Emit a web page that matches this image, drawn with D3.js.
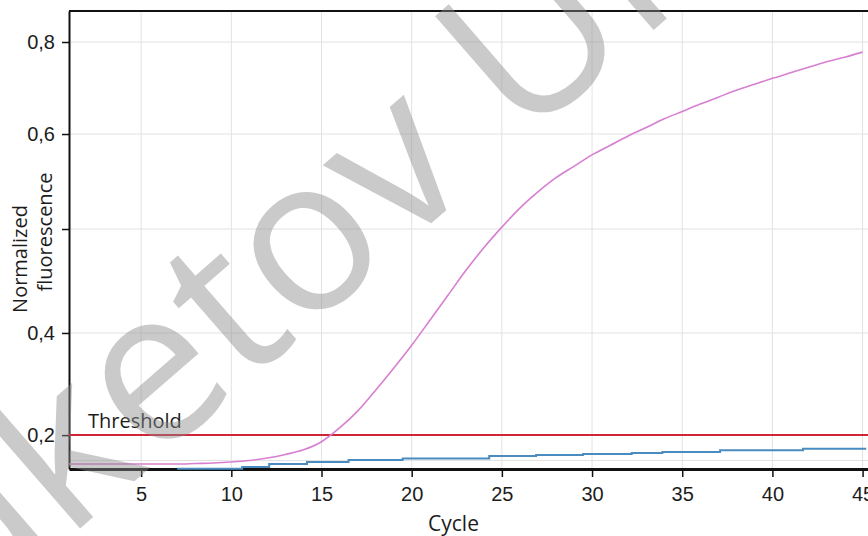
<!DOCTYPE html>
<html>
<head>
<meta charset="utf-8">
<script src="https://cdn.jsdelivr.net/npm/d3@7"></script>
<style>
  body { margin: 0; background: #fff; }
  svg { display: block; font-family: "Open Sans", sans-serif; }
</style>
</head>
<body>
<svg id="chart" width="868" height="536"></svg>
<script>
// cycle numbers and normalized fluorescence
const cycles = d3.range(1, 46);
const sampleValues = [0.143, 0.143, 0.143, 0.143, 0.143, 0.143, 0.143, 0.144, 0.145, 0.147,
  0.150, 0.155, 0.162, 0.171, 0.187, 0.214, 0.247, 0.288, 0.331, 0.376,
  0.412, 0.436, 0.460, 0.482, 0.502, 0.522, 0.539, 0.554, 0.566, 0.578,
  0.588, 0.598, 0.614, 0.633, 0.649, 0.665, 0.680, 0.695, 0.708, 0.721,
  0.733, 0.745, 0.757, 0.767, 0.778];

// negative control, drawn as steps
const controlCycles = [7, 10.6, 12.1, 14.2, 16.5, 19.5, 24.3, 26.9, 29.5, 32.2, 33.9, 37.1, 41.7, 45.2];
const controlValues = [0.134, 0.137, 0.143, 0.147, 0.151, 0.154, 0.159, 0.161, 0.163, 0.165, 0.167, 0.170, 0.173, 0.173];

const threshold = 0.2;

const xTicks = [5, 10, 15, 20, 25, 30, 35, 40, 45];
const yTicks = [0.2, 0.4, 0.5, 0.6, 0.8];
const yTickLabels = ["0,2", "0,4", "", "0,6", "0,8"];
const yGrid = [0.15, 0.2, 0.4, 0.5, 0.6, 0.8];

// the value axis in the source is not evenly spaced, so it is piecewise
const yStops = [0.1333, 0.2, 0.4, 0.5, 0.6, 0.8, 0.8674];
const yStopFrac = [1, 0.926, 0.703, 0.476, 0.2686, 0.0677, 0];

const svg = d3.select("#chart");
const margin = {top: 11, right: 0, bottom: 67, left: 69};
const W = 868 - margin.left - margin.right;
const H = 536 - margin.top - margin.bottom;

const x = d3.scaleLinear().domain([1, 45.3]).range([0, W]);
const y = d3.scaleLinear().domain(yStops).range(yStopFrac.map(f => f * H));

const g = svg.append("g").attr("transform", `translate(${margin.left},${margin.top})`);

// grid
g.append("g")
  .selectAll("line")
  .data(xTicks)
  .join("line")
  .attr("x1", d => x(d)).attr("x2", d => x(d))
  .attr("y1", 0).attr("y2", H)
  .attr("stroke", "#e2e2e2");

g.append("g")
  .selectAll("line")
  .data(yGrid)
  .join("line")
  .attr("x1", 0).attr("x2", W)
  .attr("y1", d => y(d)).attr("y2", d => y(d))
  .attr("stroke", "#e2e2e2");

// axes
const xAxis = g.append("g")
  .attr("transform", `translate(0,${H})`)
  .call(d3.axisBottom(x).tickValues(xTicks).tickSize(8).tickSizeOuter(0).tickPadding(10));
xAxis.select(".domain").attr("stroke", "#111").attr("stroke-width", 3);
xAxis.selectAll(".tick line").attr("stroke", "#111").attr("stroke-width", 1.5);
xAxis.selectAll("text").attr("font-size", 20).attr("fill", "#1c1c1c");

const yAxis = g.append("g")
  .call(d3.axisLeft(y).tickValues(yTicks)
    .tickFormat((d, i) => yTickLabels[i])
    .tickSize(7).tickSizeOuter(0).tickPadding(7));
yAxis.select(".domain").attr("stroke", "#111").attr("stroke-width", 2);
yAxis.selectAll(".tick line").attr("stroke", "#111").attr("stroke-width", 1.5);
yAxis.selectAll("text").attr("font-size", 20).attr("fill", "#1c1c1c");

g.append("line")
  .attr("x1", 0).attr("x2", W)
  .attr("y1", 0).attr("y2", 0)
  .attr("stroke", "#111").attr("stroke-width", 2);

// threshold
g.append("line")
  .attr("x1", 0).attr("x2", W)
  .attr("y1", y(threshold)).attr("y2", y(threshold))
  .attr("stroke", "#d02536").attr("stroke-width", 2);

g.append("text")
  .attr("x", 19).attr("y", y(threshold) - 7)
  .attr("font-size", 20).attr("fill", "#1c1c1c")
  .text("Threshold");

// curves
const controlLine = d3.line()
  .x((d, i) => x(controlCycles[i]))
  .y(d => y(d))
  .curve(d3.curveStepAfter);

g.append("path")
  .attr("d", controlLine(controlValues))
  .attr("fill", "none")
  .attr("stroke", "#4a8cc0")
  .attr("stroke-width", 2);

const sampleLine = d3.line()
  .x((d, i) => x(cycles[i]))
  .y(d => y(d))
  .curve(d3.curveMonotoneX);

g.append("path")
  .attr("d", sampleLine(sampleValues))
  .attr("fill", "none")
  .attr("stroke", "#d77fd2")
  .attr("stroke-width", 1.6);

// axis titles
svg.append("text")
  .attr("x", margin.left + W / 2 - 15).attr("y", 531)
  .attr("text-anchor", "middle")
  .attr("font-size", 21).attr("fill", "#1c1c1c")
  .text("Cycle");

svg.append("text")
  .attr("transform", "translate(27,259) rotate(-90)")
  .attr("text-anchor", "middle")
  .attr("font-size", 20).attr("fill", "#1c1c1c")
  .text("Normalized");

svg.append("text")
  .attr("transform", "translate(52,232) rotate(-90)")
  .attr("text-anchor", "middle")
  .attr("font-size", 20).attr("fill", "#1c1c1c")
  .text("fluorescence");

// watermark
svg.append("text")
  .attr("transform", "translate(-138,718) rotate(-41)")
  .attr("font-size", 215).attr("font-weight", 500)
  .attr("fill", "#8c8c8c").attr("opacity", 0.45)
  .text("Buketov Uni");
</script>
</body>
</html>
